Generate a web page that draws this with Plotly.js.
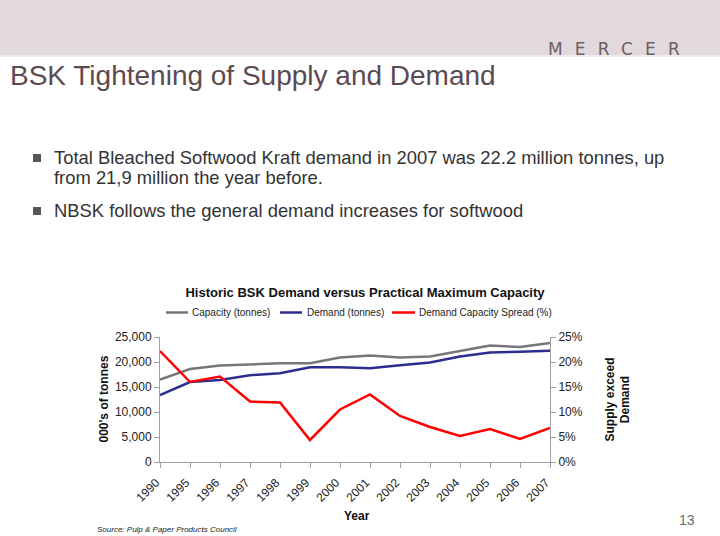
<!DOCTYPE html>
<html><head><meta charset="utf-8">
<script src="https://cdn.plot.ly/plotly-3.0.1.min.js"></script>
<style>
html,body{margin:0;padding:0;width:720px;height:536px;overflow:hidden;background:#fff;font-family:Arial,"Liberation Sans",sans-serif;}
#band{position:absolute;left:0;top:0;width:720px;height:55px;background:#e1d9dc;border-bottom:2px solid #efeaec;}
#logo{position:absolute;left:548px;top:39px;font-size:17px;letter-spacing:12.2px;color:#6e5f64;font-family:"DejaVu Sans",Arial,sans-serif;font-weight:normal;}
#title{position:absolute;left:10px;top:60px;font-size:28px;color:#5b4b51;white-space:nowrap;}
.b{position:absolute;left:54px;font-size:18.4px;color:#333;line-height:20px;white-space:nowrap;}
.sq{position:absolute;left:33px;width:8px;height:8px;background:#555;}
#pg{position:absolute;left:679px;top:512px;font-size:14px;color:#6a6a6a;}
#src{position:absolute;left:97px;top:525px;font-size:8px;font-style:italic;color:#222;}
#chart{position:absolute;left:0;top:0;width:720px;height:536px;}
</style></head>
<body>
<div id="band"></div>
<div id="logo">MERCER</div>
<div id="title">BSK Tightening of Supply and Demand</div>
<div class="sq" style="top:154px"></div>
<div class="b" style="top:148px">Total Bleached Softwood Kraft demand in 2007 was 22.2 million tonnes, up<br>from 21,9 million the year before.</div>
<div class="sq" style="top:207px"></div>
<div class="b" style="top:201px">NBSK follows the general demand increases for softwood</div>
<div id="pg">13</div>
<div id="src">Source: Pulp &amp; Paper Products Council</div>
<div id="chart"></div>
<script>
const years = ["1990","1995","1996","1997","1998","1999","2000","2001","2002","2003","2004","2005","2006","2007"];
const capacity = [16500,18600,19300,19500,19750,19750,20900,21300,20900,21100,22200,23300,23000,23800];
const demand = [13400,16000,16400,17350,17750,18950,18950,18750,19350,19900,21100,21900,22050,22250];
const spread = [0.222,0.160,0.171,0.121,0.119,0.044,0.105,0.135,0.092,0.070,0.052,0.066,0.046,0.068];
const seriesNames = ["Capacity (tonnes)", "Demand (tonnes)", "Demand Capacity Spread (%)"];
const seriesColors = ["#777777", "#2b2e8f", "#ff0000"];

const traces = [
  {x: years, y: capacity, name: seriesNames[0], type: "scatter", mode: "lines", line: {color: seriesColors[0], width: 2.5}},
  {x: years, y: demand, name: seriesNames[1], type: "scatter", mode: "lines", line: {color: seriesColors[1], width: 2.5}},
  {x: years, y: spread, name: seriesNames[2], type: "scatter", mode: "lines", yaxis: "y2", line: {color: seriesColors[2], width: 2.5}}
];

// page-pixel -> paper coordinate helpers (plot area: x 160..550, y 337..462)
const px = v => (v - 160) / 390;
const py = v => (462 - v) / 125;

// manual legend (single row like the reference)
const legendSample = [[166, 188, 190], [280, 302, 305], [392, 415, 417]];
const legendShapes = legendSample.map((s, i) => ({type: "line", xref: "paper", yref: "paper",
  x0: px(s[0]), x1: px(s[1]), y0: py(312.5), y1: py(312.5), line: {color: seriesColors[i], width: 2.5}}));
const legendText = legendSample.map((s, i) => ({text: seriesNames[i], xref: "paper", yref: "paper",
  x: px(s[2]), y: py(312.5), xanchor: "left", yanchor: "middle", showarrow: false, font: {size: 10, color: "#222"}}));

const axisFont = {family: "Arial, Liberation Sans, sans-serif", size: 12, color: "#222"};
const layout = {
  width: 720, height: 536,
  margin: {l: 160, r: 170, t: 337, b: 74, pad: 0},
  paper_bgcolor: "rgba(0,0,0,0)", plot_bgcolor: "rgba(0,0,0,0)",
  font: {family: "Arial, Liberation Sans, sans-serif", color: "#222"},
  title: {text: "<b>Historic BSK Demand versus Practical Maximum Capacity</b>", font: {size: 13, color: "#111"},
          x: 365/720, xref: "container", xanchor: "center", y: 1 - 292/536, yref: "container", yanchor: "middle"},
  showlegend: false,
  xaxis: {type: "category", range: [0, 13], showgrid: false, zeroline: false, showline: true, linecolor: "#a0a0a0", linewidth: 1,
          ticks: "outside", ticklen: 5, tickcolor: "#a0a0a0", tickangle: -45, tickfont: {size: 12, color: "#222"},
          ticklabelstandoff: 3, ticklabelshift: -4},
  yaxis: {range: [0, 25000], dtick: 5000, tickformat: ",", showgrid: false, zeroline: false, showline: true, linecolor: "#a0a0a0",
          ticks: "outside", ticklen: 5, tickcolor: "#a0a0a0", tickfont: axisFont},
  yaxis2: {range: [0, 0.25], dtick: 0.05, tickformat: ".0%", overlaying: "y", side: "right", showgrid: false, zeroline: false,
           showline: true, linecolor: "#a0a0a0", ticks: "outside", ticklen: 5, tickcolor: "#a0a0a0", tickfont: axisFont},
  shapes: legendShapes,
  annotations: legendText.concat([
    {text: "<b>000's of tonnes</b>", xref: "paper", yref: "paper", x: px(103), y: 0.5, textangle: -90, showarrow: false,
     xanchor: "center", yanchor: "middle", font: {size: 12, color: "#111"}},
    {text: "<b>Supply exceed<br>Demand</b>", xref: "paper", yref: "paper", x: px(617), y: 0.5, textangle: -90, showarrow: false,
     xanchor: "center", yanchor: "middle", font: {size: 12, color: "#111"}},
    {text: "<b>Year</b>", xref: "paper", yref: "paper", x: px(357), y: py(516), showarrow: false,
     xanchor: "center", yanchor: "middle", font: {size: 12, color: "#111"}}
  ])
};
Plotly.newPlot("chart", traces, layout, {displayModeBar: false, staticPlot: true});
</script>
</body></html>
